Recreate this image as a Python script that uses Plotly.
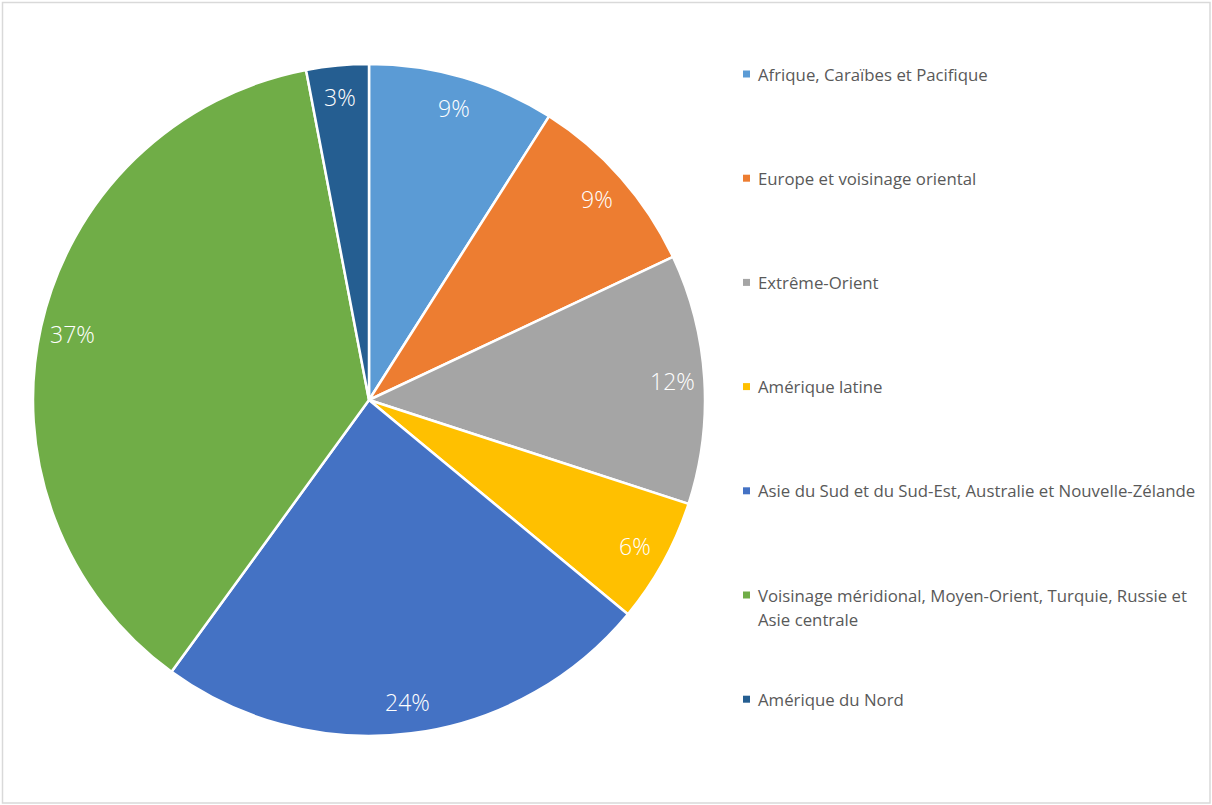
import math
import plotly.graph_objects as go

# Share of the budget by region (percent)
regions = [
    "Afrique, Caraïbes et Pacifique",
    "Europe et voisinage oriental",
    "Extrême-Orient",
    "Amérique latine",
    "Asie du Sud et du Sud-Est, Australie et Nouvelle-Zélande",
    "Voisinage méridional, Moyen-Orient, Turquie, Russie et<br>Asie centrale",
    "Amérique du Nord",
]
shares = [9, 9, 12, 6, 24, 37, 3]
colors = ["#5B9BD5", "#ED7D31", "#A5A5A5", "#FFC000", "#4472C4", "#70AD47", "#255E91"]

W, H = 1212, 805
cx, cy, R = 369, 400, 336  # pie centre and radius in pixels

fig = go.Figure(
    go.Pie(
        labels=[r.replace("<br>", " ") for r in regions],
        values=shares,
        sort=False,
        direction="clockwise",
        rotation=0,
        marker=dict(colors=colors, line=dict(color="white", width=2.5)),
        textinfo="none",
        showlegend=False,
        domain=dict(x=[(cx - R) / W, (cx + R) / W], y=[1 - (cy + R) / H, 1 - (cy - R) / H]),
    )
)

annotations = []
shapes = []

# Percentage labels near the outer edge of each slice
total = sum(shares)
cum = 0
for v in shares:
    mid = (cum + v / 2) / total * 2 * math.pi
    cum += v
    r = 0.905 * R
    px = cx + r * math.sin(mid)
    py = cy - r * math.cos(mid)
    annotations.append(dict(
        x=px / W, y=1 - py / H, xref="paper", yref="paper",
        text=f"{v}%", showarrow=False,
        font=dict(family="Open Sans", size=23, color="white", weight=300),
        xanchor="center", yanchor="middle",
    ))

# Legend on the right
leg_x, leg_y0, leg_dy, line_h = 756, 74, 104.2, 24
for i, (name, col) in enumerate(zip(regions, colors)):
    ty = leg_y0 + i * leg_dy
    shapes.append(dict(
        type="rect", xref="paper", yref="paper",
        x0=743 / W, x1=750 / W, y0=1 - (ty + 3.5) / H, y1=1 - (ty - 3.5) / H,
        fillcolor=col, line=dict(width=0),
    ))
    for j, line in enumerate(name.split("<br>")):
        ly = ty + j * line_h
        annotations.append(dict(
            x=leg_x / W, y=1 - ly / H, xref="paper", yref="paper",
            text=line, showarrow=False, align="left",
            font=dict(family="Open Sans", size=16.8, color="#595959"),
            xanchor="left", yanchor="middle",
        ))

# Chart-area border
shapes.append(dict(
    type="rect", xref="paper", yref="paper",
    x0=2.5 / W, x1=1 - 2 / W, y0=2 / H, y1=1 - 2.5 / H,
    line=dict(color="#D9D9D9", width=1.5), fillcolor="rgba(0,0,0,0)",
))

fig.update_layout(
    width=W, height=H,
    margin=dict(l=0, r=0, t=0, b=0),
    paper_bgcolor="white",
    plot_bgcolor="white",
    annotations=annotations,
    shapes=shapes,
)

fig.write_html("out.html")
